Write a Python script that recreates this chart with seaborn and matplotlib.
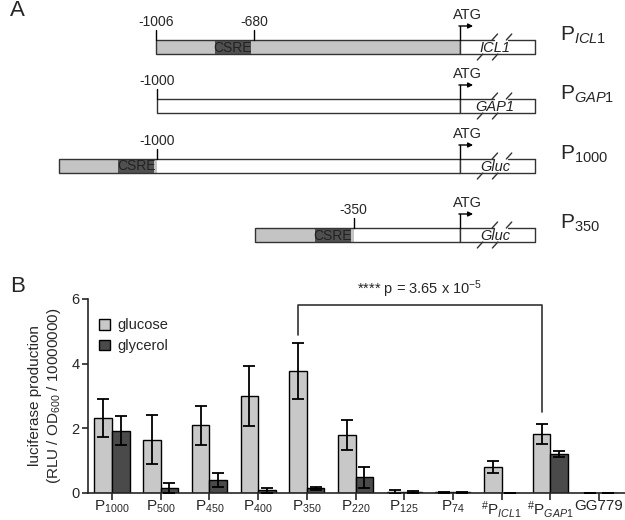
import matplotlib
matplotlib.use('Agg')
import matplotlib.pyplot as plt
from matplotlib.patches import Rectangle
import seaborn as sns
import pandas as pd

# Panel B data
promoters = ['P1000', 'P500', 'P450', 'P400', 'P350', 'P220', 'P125', 'P74', 'PICL1', 'PGAP1', 'GG779']
tick_labels = ['P$_{1000}$', 'P$_{500}$', 'P$_{450}$', 'P$_{400}$', 'P$_{350}$', 'P$_{220}$',
               'P$_{125}$', 'P$_{74}$', r'${}^{\#}$P$_{\mathit{ICL1}}$', r'${}^{\#}$P$_{\mathit{GAP1}}$', 'GG779']
glucose = [2.32, 1.65, 2.1, 3.0, 3.78, 1.8, 0.03, 0.02, 0.8, 1.83, 0.0]
glucose_sd = [0.58, 0.75, 0.6, 0.94, 0.86, 0.46, 0.05, 0.02, 0.18, 0.3, 0.0]
glycerol = [1.92, 0.16, 0.41, 0.09, 0.14, 0.48, 0.02, 0.02, 0.0, 1.2, 0.0]
glycerol_sd = [0.45, 0.15, 0.21, 0.08, 0.05, 0.31, 0.03, 0.01, 0.0, 0.1, 0.0]
bracket_y = [4.9, 5.82, 2.5]  # left leg end, top, right leg end
p_text = '**** p = 3.65 x 10$^{-5}$'

# Panel A data (bp relative to ATG)
row_tops = [40, 99, 159, 228]
gene_names = ['ICL1', 'GAP1', 'Gluc', 'Gluc']
row_labels = [r'P$_{\mathit{ICL1}}$', r'P$_{\mathit{GAP1}}$', 'P$_{1000}$', 'P$_{350}$']
box_starts = [-1006, -1000, -1326, -676]
gray_spans = [[(-1006, 0)], [], [(-1326, -1000)], [(-676, -350)]]
csre_spans = [[(-810, -690)], [], [(-1130, -1010)], [(-480, -360)]]
pos_marks = [[-1006, -680], [-1000], [-1000], [-350]]
gene_end = 250

sns.set_style('ticks')
plt.rcParams['font.family'] = ['Liberation Sans', 'DejaVu Sans']
plt.rcParams['mathtext.fontset'] = 'custom'
plt.rcParams['mathtext.rm'] = 'Liberation Sans'
plt.rcParams['mathtext.it'] = 'Liberation Sans:italic'
plt.rcParams['mathtext.bf'] = 'Liberation Sans:bold'

fig = plt.figure(figsize=(6.25, 5.2), dpi=100)

# ---------- Panel A ----------
ax_a = fig.add_axes([0, 1 - 265 / 520, 1, 265 / 520])
ax_a.set_xlim(-1521.5, 548)
ax_a.set_ylim(265, 0)
ax_a.axis('off')
h = 14
edge = '#333333'
for i, top in enumerate(row_tops):
    start = box_starts[i]
    # promoter body
    ax_a.add_patch(Rectangle((start, top), -start, h, facecolor='white', edgecolor='none'))
    for a, b in gray_spans[i]:
        ax_a.add_patch(Rectangle((a, top), b - a, h, facecolor='#c4c4c4', edgecolor='none'))
    for a, b in csre_spans[i]:
        ax_a.add_patch(Rectangle((a, top), b - a, h, facecolor='#505050', edgecolor='none'))
        ax_a.text((a + b) / 2, top + h / 2 + 0.5, 'CSRE', ha='center', va='center',
                  fontsize=10, color='#222222')
    ax_a.add_patch(Rectangle((start, top), -start, h, facecolor='none', edgecolor=edge, lw=1.0))
    # gene box with break
    ax_a.add_patch(Rectangle((0, top), gene_end, h, facecolor='white', edgecolor='none'))
    ax_a.plot([0, 0, gene_end, gene_end], [top, top + h, top + h, top], color=edge, lw=1.0)
    ax_a.plot([0, 114], [top, top], color=edge, lw=1.0)
    ax_a.plot([161, gene_end], [top, top], color=edge, lw=1.0)
    for bx in (114, 161):
        ax_a.plot([bx - 6, bx + 12], [top, top - 6], color=edge, lw=1.0)
    for bx in (71, 121):
        ax_a.plot([bx - 12, bx + 6], [top + h + 6, top + h], color=edge, lw=1.0)
    ax_a.text(118, top + h / 2 + 1, gene_names[i], ha='center', va='center',
              fontsize=10.5, style='italic', color='#222222')
    # ATG arrow
    ax_a.plot([0, 0], [top, top - 14], color='black', lw=1.0)
    ax_a.annotate('', xy=(45, top - 14), xytext=(-2, top - 14),
                  arrowprops=dict(arrowstyle='-|>', color='black', lw=1.0,
                                  mutation_scale=7, shrinkA=0, shrinkB=0))
    ax_a.text(28, top - 25, 'ATG', ha='center', va='center', fontsize=10.5)
    # position ticks
    for m in pos_marks[i]:
        ax_a.plot([m, m], [top, top - 10], color='black', lw=1.0)
        ax_a.text(m, top - 18, str(m), ha='center', va='center', fontsize=10)
    ax_a.text(332, top + 1, row_labels[i], ha='left', va='baseline', fontsize=15)

# ---------- Panel B ----------
ax_b = fig.add_axes([88 / 625, 27 / 520, 537 / 625, 194 / 520])
df = pd.DataFrame({
    'promoter': promoters * 2,
    'condition': ['glucose'] * len(promoters) + ['glycerol'] * len(promoters),
    'value': glucose + glycerol,
})
sns.barplot(data=df, x='promoter', y='value', hue='condition', order=promoters,
            palette=['#c8c8c8', '#4a4a4a'], edgecolor='black', linewidth=1.0,
            width=0.72, errorbar=None, ax=ax_b)

centers = []
for cont, vals, sds in zip(ax_b.containers, [glucose, glycerol], [glucose_sd, glycerol_sd]):
    xs = [p.get_x() + p.get_width() / 2 for p in cont.patches]
    centers.append(xs)
    ax_b.errorbar(xs, vals, yerr=sds, fmt='none', ecolor='black', elinewidth=1.3,
                  capsize=4, capthick=1.3, zorder=5)

# significance bracket between P350 and PGAP1 glucose bars
xl = centers[0][promoters.index('P350')]
xr = centers[0][promoters.index('PGAP1')]
ax_b.plot([xl, xl, xr, xr], bracket_y[:1] + [bracket_y[1], bracket_y[1]] + bracket_y[2:],
          color='#333333', lw=1.2, clip_on=False)
ax_b.text((xl + xr) / 2, 5.98, p_text, ha='center', va='bottom', fontsize=10.5)

ax_b.set_xlim(-0.493, 10.534)
ax_b.set_ylim(0, 6)
ax_b.set_yticks([0, 2, 4, 6])
ax_b.set_xticks(range(len(promoters)))
ax_b.set_xticklabels(tick_labels, fontsize=11)
ax_b.tick_params(axis='y', labelsize=10.5, length=4, width=1.2, pad=2)
ax_b.tick_params(axis='x', length=5, width=1.2, pad=-1)
ax_b.set_xlabel('')
ax_b.set_ylabel('luciferase production\n(RLU / OD$_{600}$ / 10000000)', fontsize=11, labelpad=6)
sns.despine(ax=ax_b)
for s in ['left', 'bottom']:
    ax_b.spines[s].set_linewidth(1.2)

handles, labels = ax_b.get_legend_handles_labels()
ax_b.legend(handles, labels, loc='upper left', bbox_to_anchor=(0.01, 0.93), frameon=False,
            fontsize=10.5, handlelength=0.75, handleheight=0.75, handletextpad=0.5,
            labelspacing=0.45, borderaxespad=0)

fig.text(10 / 625, 1 - 10 / 520, 'A', fontsize=16, ha='left', va='center')
fig.text(10 / 625, 1 - 286 / 520, 'B', fontsize=16, ha='left', va='center')

fig.savefig('out.png', dpi=100)
